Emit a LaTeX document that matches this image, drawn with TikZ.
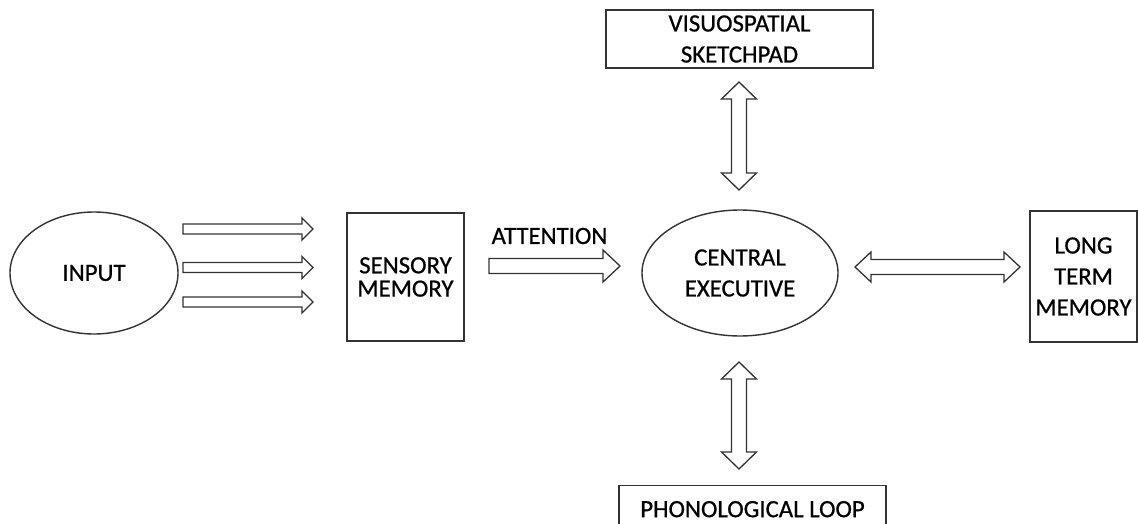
\documentclass[tikz,border=0pt]{standalone}
\usepackage{fontspec}
\setmainfont{Carlito}
\newfontfamily\lblface{Carlito}[RawFeature={embolden=0.7}]
\usetikzlibrary{calc,shapes.geometric}

\newcommand\lblfont{\lblface\fontsize{24.8}{31}\selectfont}

\tikzset{
  ink/.style={draw=black!80, line width=1.4pt},
  box/.style={ink, rectangle, inner sep=0pt, align=center, font=\lblfont},
  oval/.style={ink, ellipse, inner sep=0pt, align=center, font=\lblfont},
  label/.style={inner sep=0pt, font=\lblfont},
  % hollow block arrow: shaft half-width, head half-width, head length
  fatone/.style n args={3}{ink, line width=1.3pt, line join=miter, to path={
     let \p1=($(\tikztotarget)-(\tikztostart)$), \n1={atan2(\y1,\x1)}, \n2={veclen(\x1,\y1)} in
     ($(\tikztostart)+(\n1+90:#1)$) -- ++(\n1:\n2-#3) -- ++(\n1+90:#2-#1) -- (\tikztotarget)
     -- ($(\tikztotarget)+(\n1+180:#3)+(\n1-90:#2)$) -- ++(\n1+90:#2-#1)
     -- ($(\tikztostart)+(\n1-90:#1)$) -- cycle}},
  fattwo/.style n args={3}{ink, line width=1.3pt, line join=miter, to path={
     let \p1=($(\tikztotarget)-(\tikztostart)$), \n1={atan2(\y1,\x1)} in
     ($(\tikztostart)+(\n1:#3)+(\n1+90:#1)$) -- ($(\tikztotarget)+(\n1+180:#3)+(\n1+90:#1)$)
     -- ++(\n1+90:#2-#1) -- (\tikztotarget)
     -- ($(\tikztotarget)+(\n1+180:#3)+(\n1-90:#2)$) -- ++(\n1+90:#2-#1)
     -- ($(\tikztostart)+(\n1:#3)+(\n1-90:#1)$) -- ++(\n1-90:#2-#1)
     -- (\tikztostart) -- ($(\tikztostart)+(\n1:#3)+(\n1+90:#2)$) -- cycle}},
}

\begin{document}
\begin{tikzpicture}[x=1pt, y=-1pt]
\useasboundingbox (0,0) rectangle (1138,524);

% blocks
\node[oval, minimum width=168pt, minimum height=122pt] (input) at (94,273) {INPUT};
\node[box, minimum width=117pt, minimum height=128pt] (sensory) at (405.5,277) {\raisebox{-3pt}{\shortstack{SENSORY\\[4pt]MEMORY}}};
\node[oval, minimum width=196pt, minimum height=126pt] (central) at (740,273) {CENTRAL\\EXECUTIVE};
\node[box, minimum width=267pt, minimum height=58pt] (visuo) at (739.5,39)
  {\lblface\fontsize{24.8}{32}\selectfont VISUOSPATIAL\\SKETCHPAD};
\node[box, minimum width=267pt, minimum height=47pt, anchor=north] (phono) at (752.5,485) {PHONOLOGICAL LOOP};
\node[box, minimum width=107pt, minimum height=131pt] (ltm) at (1083.5,276.5) {LONG\\TERM\\MEMORY};
\node[label] (attn) at (549.5,236) {ATTENTION};

% arrow end points
\coordinate (i1s) at (183,229);   \coordinate (i1e) at (313,229);
\coordinate (i2s) at (183,267.5); \coordinate (i2e) at (313,267.5);
\coordinate (i3s) at (183,302);   \coordinate (i3e) at (313,302);
\coordinate (as) at (489,266);    \coordinate (ae) at (620,266);
\coordinate (ls) at (855,267);    \coordinate (le) at (1020,267);
\coordinate (vs) at (739,82);     \coordinate (ve) at (739,190);
\coordinate (ps) at (739,362);    \coordinate (pe) at (739,469);

% input to sensory memory
\draw[fatone={5pt}{11pt}{11pt}] (i1s) to (i1e);
\draw[fatone={5pt}{11pt}{11pt}] (i2s) to (i2e);
\draw[fatone={5pt}{11pt}{11pt}] (i3s) to (i3e);
% attention
\draw[fatone={7.5pt}{16pt}{17pt}] (as) to (ae);
% exchanges with the central executive
\draw[fattwo={7.5pt}{15pt}{16pt}] (ls) to (le);
\draw[fattwo={7.5pt}{17.5pt}{17pt}] (vs) to (ve);
\draw[fattwo={7.5pt}{17.5pt}{17pt}] (ps) to (pe);
\end{tikzpicture}
\end{document}
